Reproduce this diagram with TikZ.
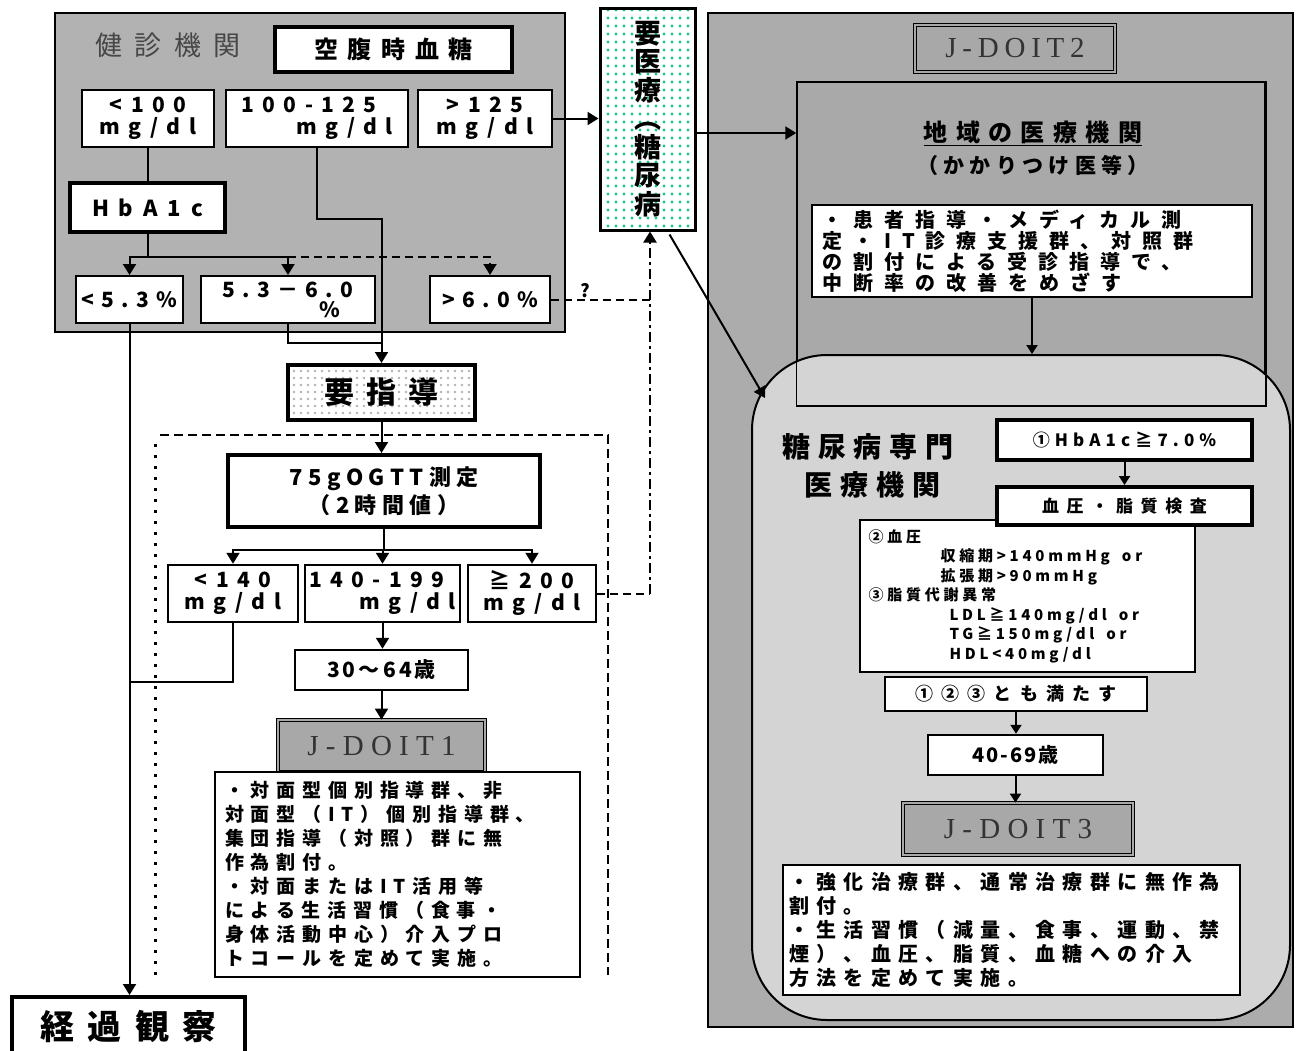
\documentclass[tikz,border=0pt]{standalone}
\usepackage{fontspec}
\setmainfont{Noto Sans CJK JP}
\newfontfamily\serifl{Liberation Serif}
\usetikzlibrary{arrows.meta,patterns.meta,calc}
\definecolor{panel}{HTML}{B2B2B2}
\definecolor{panelr}{HTML}{ACACAC}
\definecolor{innerg}{HTML}{A9A9A9}
\definecolor{light}{HTML}{D4D4D4}
\definecolor{mint}{RGB}{20,200,140}
\definecolor{labgray}{HTML}{A8A8A8}
\newcommand\lsp[1]{\addfontfeatures{LetterSpace=#1}}
\newcommand\fs[2]{\fontsize{#1}{#2}\selectfont}
\begin{document}
\begin{tikzpicture}[x=1pt,y=-1pt,
  hv/.style={draw, line width=4pt, inner sep=0pt, align=center},
  heavy/.style={hv, fill=white},
  box/.style={draw, line width=2.5pt, fill=white, inner sep=0pt, align=center},
  lab/.style={draw=black, line width=0.8pt, double=labgray, double distance=2.5pt, fill=labgray, inner sep=0pt, text=black!80},
  arr/.style={line width=2pt, -{Triangle[width=13pt,length=11pt]}},
  sarr/.style={line width=2pt, -{Triangle[width=11pt,length=9pt]}},
  conn/.style={line width=2pt},
  dsh/.style={dash pattern=on 8pt off 5pt},
  panelbox/.style={draw, line width=1.8pt, inner sep=0pt},
]
\useasboundingbox (0,0) rectangle (1297,1050);

% ---------- panels ----------
\node[panelbox, fill=panel, minimum width=510pt, minimum height=319pt] (lpanel) at (310,172.5) {};
\node[panelbox, fill=panelr, minimum width=585pt, minimum height=1014pt] (rpanel) at (1000.5,520) {};
\node[panelbox, fill=innerg, line width=1.5pt, minimum width=468pt, minimum height=323pt] (inner) at (1031,243.5) {};
\node[panelbox, fill=light, line width=2pt, rounded corners=75pt, minimum width=538pt, minimum height=665pt] (senreg) at (1021,687.5) {};
\draw[line width=1.5pt] (inner.north west) rectangle (inner.south east);

% ---------- left panel ----------
\node[font=\fs{27}{30}\lsp{45}, text=black!72] (kenshin) at (168,45) {健診機関};
\node[heavy, minimum width=237pt, minimum height=45pt, font=\bfseries\fs{24}{26}\lsp{40}] (kfb) at (393.5,49.5) {空腹時血糖};

\node[box, line width=2pt, minimum width=132pt, minimum height=57pt, font=\bfseries\fs{21}{22}\lsp{40}] (a1) at (148,118.5) {<100\\mg/dl};
\node[box, line width=2pt, minimum width=182pt, minimum height=57pt, align=left, font=\bfseries\fs{21}{22}\lsp{40}] (a2) at (317,118.5) {100-125\\\hspace*{2.6em}mg/dl};
\node[box, line width=2pt, minimum width=134pt, minimum height=57pt, font=\bfseries\fs{21}{22}\lsp{40}] (a3) at (485,118.5) {>125\\mg/dl};

\node[heavy, minimum width=155pt, minimum height=49pt, font=\bfseries\fs{22}{24}\lsp{45}] (hb) at (147.5,207.5) {HbA1c};

\node[box, line width=2pt, minimum width=107pt, minimum height=47pt, font=\bfseries\fs{21}{22}\lsp{35}] (b1) at (129.5,299.5) {<5.3\%};
\node[box, line width=2pt, minimum width=174pt, minimum height=47pt, align=left, font=\bfseries\fs{21}{20}\lsp{35}] (b2) at (288,299.5) {5.3－6.0\\\hspace*{4.6em}\%};
\node[box, line width=2pt, minimum width=120pt, minimum height=47pt, font=\bfseries\fs{21}{22}\lsp{35}] (b3) at (490,299.5) {>6.0\%};

% ---------- 要医療 ----------
\node[draw, line width=3pt, inner sep=0pt, align=center, minimum width=95pt, minimum height=222pt,
      preaction={fill=white}, pattern={Dots[distance=8pt,radius=1.6pt]}, pattern color=mint,
      font=\bfseries\fs{27}{28.5}] (iryo) at (647.5,119) {要\\医\\療\\︵\\糖\\尿\\病};

% ---------- middle ----------
\node[hv, minimum width=187pt, minimum height=55pt, preaction={fill=white},
      pattern={Dots[distance=7pt,radius=1.4pt]}, pattern color=black!30,
      font=\bfseries\fs{30}{32}\lsp{40}] (ys) at (381.5,392.5) {要指導};

\draw[line width=3pt, dash pattern=on 3pt off 8pt] (155,975) -- (155,440);
\draw[line width=2.5pt, dash pattern=on 9pt off 5pt] (160,435) -- (608,435) -- (608,975);

\node[heavy, minimum width=312pt, minimum height=72pt, font=\bfseries\fs{22}{28}\lsp{25}] (og) at (384,491) {75gOGTT測定\\（2時間値）};

\node[box, minimum width=130pt, minimum height=57pt, font=\bfseries\fs{21}{22}\lsp{40}] (c1) at (233,593.5) {<140\\mg/dl};
\node[box, minimum width=155pt, minimum height=57pt, align=left, font=\bfseries\fs{21}{22}\lsp{40}] (c2) at (382.5,593.5) {140-199\\\hspace*{2.4em}mg/dl};
\node[box, minimum width=128pt, minimum height=57pt, font=\bfseries\fs{21}{22}\lsp{40}] (c3) at (532,593.5) {≧200\\mg/dl};

\node[box, minimum width=173pt, minimum height=40pt, font=\bfseries\fs{21}{23}\lsp{15}] (age) at (381.5,670) {30～64歳};
\node[lab, minimum width=207pt, minimum height=52pt, font=\serifl\fs{29}{30}\lsp{25}] (jd1) at (381.5,746) {J-DOIT1};
\node[box, minimum width=365pt, minimum height=205pt, text width=345pt, align=left, font=\bfseries\fs{19}{24}\lsp{36}] (t1) at (397.5,874.5)
 {・対面型個別指導群、非\\
  対面型（IT）個別指導群、\\
  集団指導（対照）群に無\\
  作為割付。\\
  ・対面またはIT活用等\\
  による生活習慣（食事・\\
  身体活動中心）介入プロ\\
  トコールを定めて実施。};

\node[hv, fill=white, minimum width=233pt, minimum height=58pt, font=\bfseries\fs{34}{36}\lsp{40}] (kk) at (128.5,1026) {経過観察};

% ---------- right ----------
\node[lab, minimum width=200pt, minimum height=47pt, font=\serifl\fs{29}{30}\lsp{20}] (jd2) at (1015,48.5) {J-DOIT2};
\node[font=\bfseries\fs{24}{26}\lsp{35}] (chiiki) at (1033,133) {\underline{地域の医療機関}};
\node[font=\bfseries\fs{21}{24}\lsp{25}] (kakari) at (1033,165) {（かかりつけ医等）};
\node[box, minimum width=440pt, minimum height=92pt, text width=420pt, align=left, font=\bfseries\fs{20}{21}\lsp{55}] (w2) at (1032,251)
 {・患者指導・メディカル測\\
  定・IT診療支援群、対照群\\
  の割付による受診指導で、\\
  中断率の改善をめざす};

\node[font=\bfseries\fs{28}{38}\lsp{28}, align=left] (senmon) at (868,466) {糖尿病専門\\\hspace*{0.8em}医療機関};

\node[heavy, minimum width=255pt, minimum height=40pt, font=\bfseries\fs{17}{19}\lsp{30}] (h1) at (1124.5,440) {①HbA1c≧7.0\%};
\node[box, line width=1.8pt, minimum width=335pt, minimum height=152pt, text width=318pt, align=left, font=\bfseries\fs{15}{19.5}\lsp{25}] (h3) at (1027.5,596)
 {②血圧\\
  \hspace*{4.8em}収縮期>140mmHg\hspace{0.8em}or\\
  \hspace*{4.8em}拡張期>90mmHg\\
  ③脂質代謝異常\\
  \hspace*{5.4em}LDL≧140mg/dl\hspace{0.8em}or\\
  \hspace*{5.4em}TG≧150mg/dl\hspace{0.8em}or\\
  \hspace*{5.4em}HDL<40mg/dl};
\node[heavy, minimum width=255pt, minimum height=38pt, font=\bfseries\fs{17}{19}\lsp{45}] (h2) at (1124.5,506) {血圧・脂質検査};
\node[box, minimum width=262pt, minimum height=34pt, font=\bfseries\fs{18}{20}\lsp{45}] (h4) at (1016,694) {①②③とも満たす};
\node[box, minimum width=175pt, minimum height=40pt, font=\bfseries\fs{20}{22}\lsp{10}] (age2) at (1015.5,755) {40-69歳};
\node[lab, minimum width=230pt, minimum height=52pt, font=\serifl\fs{29}{30}\lsp{25}] (jd3) at (1018,829) {J-DOIT3};
\node[box, minimum width=457pt, minimum height=130pt, text width=445pt, align=left, font=\bfseries\fs{20}{24}\lsp{37}] (t3) at (1011.5,930)
 {・強化治療群、通常治療群に無作為\\
  割付。\\
  ・生活習慣（減量、食事、運動、禁\\
  煙）、血圧、脂質、血糖への介入\\
  方法を定めて実施。};

% ---------- connectors ----------
\coordinate (hbj) at ($(hb.south)+(0,23)$);
\draw[conn] (a1.south) -- (a1.south |- hb.north);
\draw[conn] (hb.south) -- (hbj);
\draw[arr] (hbj) -| (b1.north);
\draw[arr] (hbj) -| (b2.north);
\draw[arr, dsh] (b2.north |- hbj) -| (b3.north);

\draw[arr] (a2.south) -- ++(0,71) -| (ys.north);
\draw[conn] (b2.south) |- ($(ys.north)+(0,-20)$);
\draw[arr] (b1.south) -- (b1.south |- kk.north);

\draw[arr] (a3.east) -- (a3.east -| iryo.west);
\draw[arr] ($(iryo.east)+(0,14)$) -- (inner.west |- {0,133});
\draw[arr] ($(iryo.south)+(22,3)$) .. controls (708,300) .. (765,398);

\coordinate (q) at (650,593.5);
\draw[conn, dsh] (b3.east) -- (q |- b3.east) node[pos=0.35, above=-3pt, font=\bfseries\fs{18}{18}] (qm) {?};
\draw[conn, dsh] (c3.east) -- (q);
\draw[arr, dash pattern=on 10pt off 4pt on 3pt off 4pt] (q) -- (q |- iryo.south);

\draw[arr] (ys.south) -- (ys.south |- og.north);
\coordinate (oj) at ($(og.south)+(0,21)$);
\draw[conn] (og.south) -- (oj);
\draw[arr] (oj) -| (c1.north);
\draw[arr] (oj) -| (c2.north);
\draw[arr] (oj) -| (c3.north);
\draw[conn] (c1.south) |- (b1.south |- {0,682});
\draw[arr] (c2.south) -- (c2.south |- age.north);
\draw[arr] (age.south) -- (age.south |- jd1.north);

\draw[sarr] (w2.south) -- (w2.south |- senreg.north);
\draw[sarr] (h1.south) -- (h2.north);
\draw[sarr] (h4.south) -- (h4.south |- age2.north);
\draw[sarr] (age2.south) -- (age2.south |- jd3.north);
\end{tikzpicture}
\end{document}
